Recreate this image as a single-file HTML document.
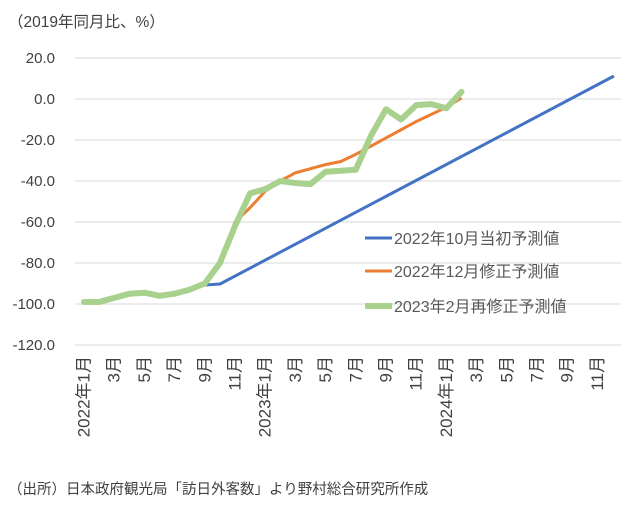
<!DOCTYPE html>
<html><head><meta charset="utf-8"><style>
body{margin:0;background:#fff;}
svg text{font-family:"Liberation Sans","Noto Sans CJK JP",sans-serif;fill:#404040;}
</style></head><body>
<svg width="634" height="503" viewBox="0 0 634 503" xmlns="http://www.w3.org/2000/svg">
<text x="8" y="27" font-size="15.5">（2019年同月比、%）</text>
<g stroke="#d9d9d9" stroke-width="1">
<line x1="75" x2="621" y1="58" y2="58"/><line x1="75" x2="621" y1="99" y2="99"/>
<line x1="75" x2="621" y1="140" y2="140"/><line x1="75" x2="621" y1="181" y2="181"/>
<line x1="75" x2="621" y1="222" y2="222"/><line x1="75" x2="621" y1="263" y2="263"/>
<line x1="75" x2="621" y1="304" y2="304"/><line x1="75" x2="621" y1="345" y2="345"/>
</g>
<g font-size="15" text-anchor="end">
<text x="55" y="63">20.0</text><text x="55" y="104">0.0</text><text x="55" y="145">-20.0</text>
<text x="55" y="186">-40.0</text><text x="55" y="227">-60.0</text><text x="55" y="268">-80.0</text>
<text x="55" y="309">-100.0</text><text x="55" y="350">-120.0</text>
</g>
<g font-size="17" text-anchor="end" dominant-baseline="central" id="xl"></g>
<polyline fill="none" stroke="#4472c4" stroke-width="3" stroke-linejoin="round" points="205,285 220,284 614,76"/>
<polyline id="or" fill="none" stroke="#ed7d31" stroke-width="3" stroke-linejoin="round"/>
<polyline id="gr" fill="none" stroke="#a9d18e" stroke-width="6" stroke-linejoin="round" stroke-linecap="round"/>
<line x1="365" x2="392" y1="238" y2="238" stroke="#4472c4" stroke-width="3"/>
<line x1="365" x2="392" y1="271" y2="271" stroke="#ed7d31" stroke-width="3"/>
<line x1="365" x2="392" y1="306" y2="306" stroke="#a9d18e" stroke-width="6"/>
<g font-size="16">
<text x="394" y="244" style="fill:#595959">2022年10月当初予測値</text>
<text x="394" y="277" style="fill:#595959">2022年12月修正予測値</text>
<text x="394" y="312" style="fill:#595959">2023年2月再修正予測値</text>
</g>
<text x="8" y="494" font-size="14.5">（出所）日本政府観光局「訪日外客数」より野村総合研究所作成</text>
</svg>
<script>
var X=m=>84+m*15.1, Y=v=>99-v*2.05;
var g=[-99,-99,-97,-95,-94.5,-96,-95,-93,-90,-80,-62,-46,-44,-40,-41,-41.5,-35.5,-35,-34.5,-18,-5,-10,-3,-2.5,-4.5,3.5];
var o={9:-80,10:-60,11:-53,12:-45,13:-40,14:-36,15:-34,16:-32,17:-30.5,18:-27,19:-23,20:-19,21:-15,22:-11,23:-7.5,24:-4,25:0.5};
document.getElementById('gr').setAttribute('points',g.map((v,i)=>X(i)+','+Y(v)).join(' '));
document.getElementById('or').setAttribute('points',Object.keys(o).map(k=>X(+k)+','+Y(o[k])).join(' '));
var xl=document.getElementById('xl'),s='';
for(var m=0;m<36;m+=2){var mo=m%12+1,lab=(mo==1?(2022+m/12)+'年1月':mo+'月');
s+='<text transform="translate('+X(m)+',356) rotate(-90)">'+lab+'</text>';}
xl.innerHTML=s;
</script>
</body></html>
